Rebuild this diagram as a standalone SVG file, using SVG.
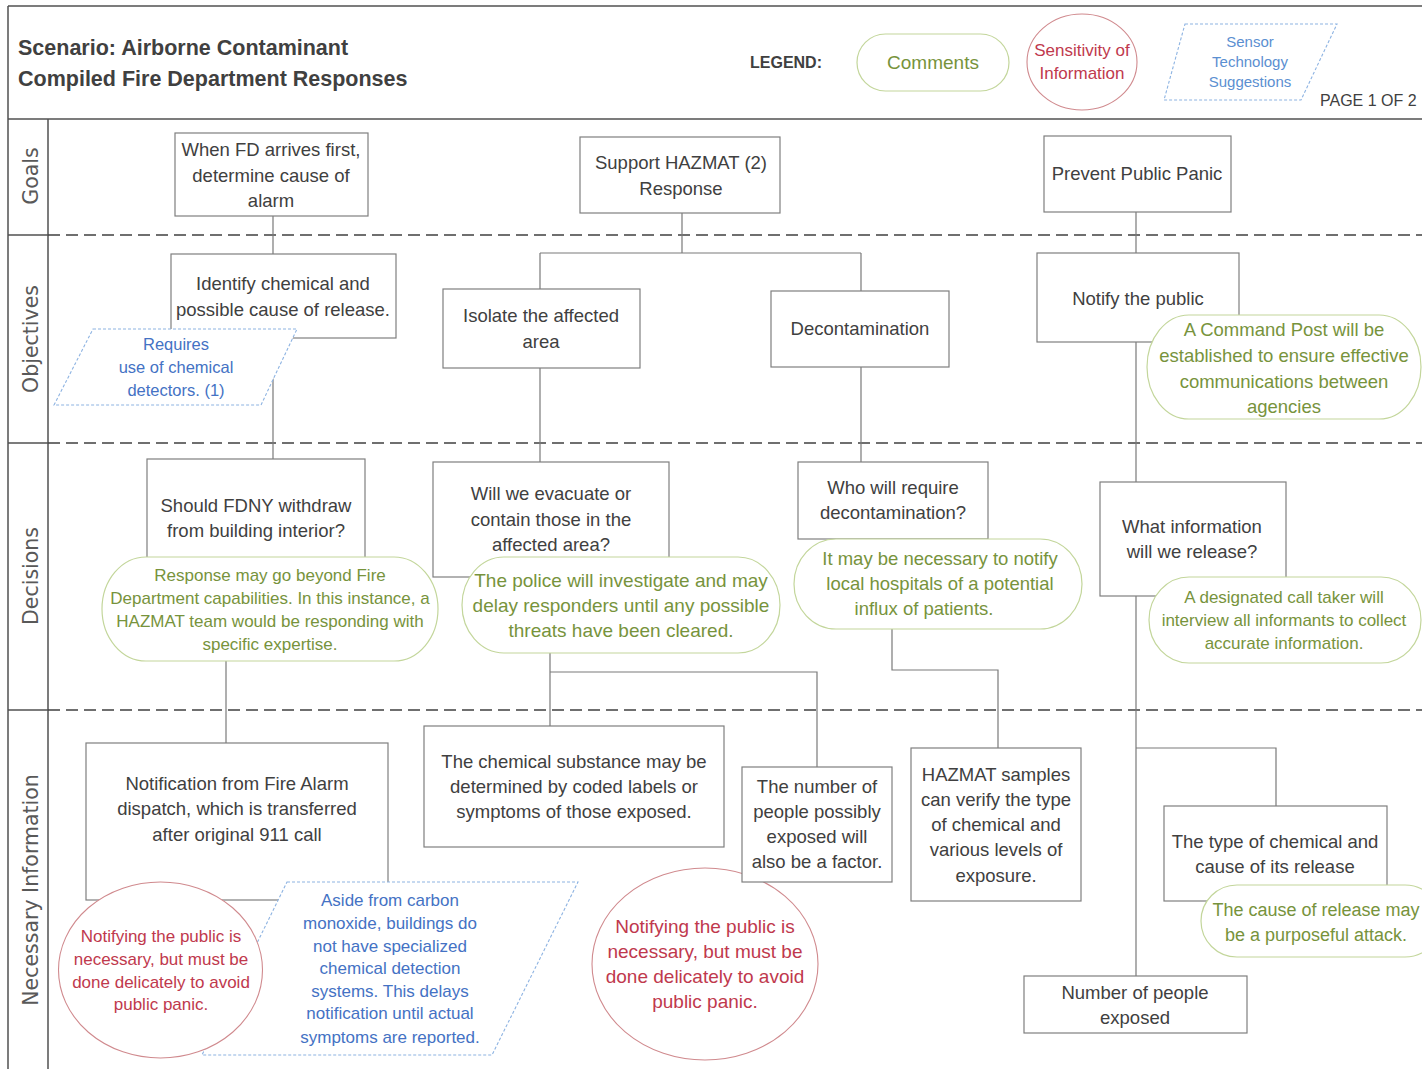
<svg xmlns="http://www.w3.org/2000/svg" width="1422" height="1069" viewBox="0 0 1422 1069">
<style>
.frame{stroke:#505050;stroke-width:1.5;fill:none}
.lane{stroke:#404040;stroke-width:1.5;stroke-dasharray:12 6;fill:none}
.conn{stroke:#7a7a7a;stroke-width:1.2;fill:none}
.box{fill:#fff;stroke:#7f7f7f;stroke-width:1.2}
.pill{fill:#fff;stroke:#c3d69b;stroke-width:1.2}
.circ{fill:#fff;stroke:#d08a8e;stroke-width:1.1}
.para{fill:#fff;stroke:#8db3e2;stroke-width:1.1;stroke-dasharray:3 2}
text{font-family:"Liberation Sans",Arial,sans-serif;text-anchor:middle}
.t{font-size:18.5px;fill:#404040}
.gt{fill:#77933c}
.rt{fill:#c0394d}
.bt{fill:#4472c4}
.title{font-size:21.5px;font-weight:bold;fill:#404040;text-anchor:start}
.lbl{font-family:"DejaVu Sans",sans-serif;font-size:20.5px;fill:#595959}
</style>
<rect width="1422" height="1069" fill="#fff"/>
<g id="frame">
<line class="frame" x1="8" y1="6" x2="1422" y2="6"/>
<line class="frame" x1="8" y1="119" x2="1422" y2="119"/>
<line class="frame" x1="8" y1="6" x2="8" y2="1069"/>
<line class="frame" x1="48" y1="119" x2="48" y2="1069"/>
<line class="frame" x1="8" y1="235" x2="48" y2="235"/>
<line class="frame" x1="8" y1="443" x2="48" y2="443"/>
<line class="frame" x1="8" y1="710" x2="48" y2="710"/>
<line class="lane" x1="48" y1="235" x2="1422" y2="235"/>
<line class="lane" x1="48" y1="443" x2="1422" y2="443"/>
<line class="lane" x1="48" y1="710" x2="1422" y2="710"/>
</g>
<g id="header">
<text class="title" x="18" y="54.5">Scenario: Airborne Contaminant</text>
<text class="title" x="18" y="85.5">Compiled Fire Department Responses</text>
<text x="750" y="68" style="font-size:16px;font-weight:bold;fill:#404040;text-anchor:start">LEGEND:</text>
<text x="1320" y="106" style="font-size:16px;fill:#404040;text-anchor:start">PAGE 1 OF 2</text>
</g>
<g id="legend-comments">
<rect class="pill" x="857" y="34" width="152" height="57" rx="28.5"/>
<text class="gt" x="933" y="68.5" style="font-size:19px">Comments</text>
</g>
<g id="legend-sensitivity">
<ellipse class="circ" cx="1082" cy="62" rx="55" ry="48"/>
<text class="rt" x="1082" y="56" style="font-size:17px">Sensitivity of</text>
<text class="rt" x="1082" y="79" style="font-size:17px">Information</text>
</g>
<g id="legend-sensor">
<polygon class="para" points="1185,24 1337,24 1301,100 1164,100"/>
<text class="bt" x="1250" y="47" style="font-size:15px;fill:#5b8fd1">Sensor</text>
<text class="bt" x="1250" y="67" style="font-size:15px;fill:#5b8fd1">Technology</text>
<text class="bt" x="1250" y="87" style="font-size:15px;fill:#5b8fd1">Suggestions</text>
</g>
<g id="lane-labels">
<text class="lbl" transform="translate(38,176) rotate(-90)">Goals</text>
<text class="lbl" transform="translate(38,339) rotate(-90)">Objectives</text>
<text class="lbl" transform="translate(38,576) rotate(-90)">Decisions</text>
<text class="lbl" transform="translate(38,890) rotate(-90)">Necessary Information</text>
</g>
<g id="connectors">
<path class="conn" d="M273,216 V254 M273,338 V459"/>
<path class="conn" d="M226,661 V743"/>
<path class="conn" d="M682,213 V253 M540,253 H861 M540,253 V289 M861,253 V291"/>
<path class="conn" d="M540,368 V462 M861,367 V462"/>
<path class="conn" d="M550,653 V726 M550,672 H817 V767"/>
<path class="conn" d="M892,628 V670 H998 V748"/>
<path class="conn" d="M1136,212 V253 M1136,342 V482 M1136,596 V976 M1136,748 H1276 V806"/>
</g>
<g id="g1">
<rect class="box" x="175" y="133" width="193" height="83"/>
<text class="t" x="271" y="155.5">When FD arrives first,</text>
<text class="t" x="271" y="181.5">determine cause of</text>
<text class="t" x="271" y="206.5">alarm</text>
</g>
<g id="g2">
<rect class="box" x="580" y="137" width="200" height="76"/>
<text class="t" x="681" y="168.5">Support HAZMAT (2)</text>
<text class="t" x="681" y="194.5">Response</text>
</g>
<g id="g3">
<rect class="box" x="1044" y="136" width="187" height="76"/>
<text class="t" x="1137" y="179.5">Prevent Public Panic</text>
</g>
<g id="o1">
<rect class="box" x="171" y="254" width="225" height="84"/>
<text class="t" x="283" y="289.5">Identify chemical and</text>
<text class="t" x="283" y="315.5">possible cause of release.</text>
</g>
<g id="o1-sensor">
<polygon class="para" points="93,329 297,329 261,405 54,405"/>
<text class="bt" x="176" y="349.5" style="font-size:16.5px">Requires</text>
<text class="bt" x="176" y="372.5" style="font-size:16.5px">use of chemical</text>
<text class="bt" x="176" y="395.5" style="font-size:16.5px">detectors. (1)</text>
</g>
<g id="o2">
<rect class="box" x="443" y="289" width="197" height="79"/>
<text class="t" x="541" y="322">Isolate the affected</text>
<text class="t" x="541" y="348">area</text>
</g>
<g id="o3">
<rect class="box" x="771" y="291" width="178" height="76"/>
<text class="t" x="860" y="335">Decontamination</text>
</g>
<g id="o4">
<rect class="box" x="1037" y="253" width="202" height="89"/>
<text class="t" x="1138" y="305">Notify the public</text>
</g>
<g id="o4-comment">
<rect class="pill" x="1147" y="315" width="274" height="104" rx="42" ry="52"/>
<text class="t gt" x="1284" y="335.5">A Command Post will be</text>
<text class="t gt" x="1284" y="361.5">established to ensure effective</text>
<text class="t gt" x="1284" y="387.5">communications between</text>
<text class="t gt" x="1284" y="412.5">agencies</text>
</g>
<g id="d1">
<rect class="box" x="147" y="459" width="218" height="100"/>
<text class="t" x="256" y="511.5">Should FDNY withdraw</text>
<text class="t" x="256" y="537">from building interior?</text>
</g>
<g id="d1-comment">
<rect class="pill" x="102" y="557" width="336" height="104" rx="44" ry="52"/>
<text class="gt" x="270" y="581" style="font-size:17px">Response may go beyond Fire</text>
<text class="gt" x="270" y="604" style="font-size:17px">Department capabilities. In this instance, a</text>
<text class="gt" x="270" y="627" style="font-size:17px">HAZMAT team would be responding with</text>
<text class="gt" x="270" y="650" style="font-size:17px">specific expertise.</text>
</g>
<g id="d2">
<rect class="box" x="433" y="462" width="236" height="115"/>
<text class="t" x="551" y="500">Will we evacuate or</text>
<text class="t" x="551" y="525.5">contain those in the</text>
<text class="t" x="551" y="551">affected area?</text>
</g>
<g id="d2-comment">
<rect class="pill" x="462" y="557" width="318" height="96" rx="42" ry="48"/>
<text class="gt" x="621" y="586.5" style="font-size:19px">The police will investigate and may</text>
<text class="gt" x="621" y="611.5" style="font-size:19px">delay responders until any possible</text>
<text class="gt" x="621" y="636.5" style="font-size:19px">threats have been cleared.</text>
</g>
<g id="d3">
<rect class="box" x="798" y="462" width="190" height="77"/>
<text class="t" x="893" y="494">Who will require</text>
<text class="t" x="893" y="519">decontamination?</text>
</g>
<g id="d3-comment">
<rect class="pill" x="794" y="539" width="288" height="90" rx="42" ry="45"/>
<text class="t gt" x="940" y="564.5">It may be necessary to notify</text>
<text class="t gt" x="940" y="589.5">local hospitals of a potential</text>
<text class="t gt" x="924" y="614.5">influx of patients.</text>
</g>
<g id="d4">
<rect class="box" x="1100" y="482" width="186" height="114"/>
<text class="t" x="1192" y="532.5">What information</text>
<text class="t" x="1192" y="558">will we release?</text>
</g>
<g id="d4-comment">
<rect class="pill" x="1149" y="577" width="272" height="86" rx="40" ry="43"/>
<text class="gt" x="1284" y="603" style="font-size:17px">A designated call taker will</text>
<text class="gt" x="1284" y="626" style="font-size:17px">interview all informants to collect</text>
<text class="gt" x="1284" y="649" style="font-size:17px">accurate information.</text>
</g>
<g id="n1">
<rect class="box" x="86" y="743" width="302" height="157"/>
<text class="t" x="237" y="789.5">Notification from Fire Alarm</text>
<text class="t" x="237" y="814.5">dispatch, which is transferred</text>
<text class="t" x="237" y="840.5">after original 911 call</text>
</g>
<g id="n1-sensor">
<polygon class="para" points="287,882 578,882 492,1055 202,1055"/>
<text class="bt" x="390" y="906" style="font-size:17px">Aside from carbon</text>
<text class="bt" x="390" y="929" style="font-size:17px">monoxide, buildings do</text>
<text class="bt" x="390" y="952" style="font-size:17px">not have specialized</text>
<text class="bt" x="390" y="974" style="font-size:17px">chemical detection</text>
<text class="bt" x="390" y="997" style="font-size:17px">systems. This delays</text>
<text class="bt" x="390" y="1019" style="font-size:17px">notification until actual</text>
<text class="bt" x="390" y="1043" style="font-size:17px">symptoms are reported.</text>
</g>
<g id="n1-sensitivity">
<ellipse class="circ" cx="160.5" cy="970" rx="102" ry="88"/>
<text class="rt" x="161" y="942" style="font-size:17px">Notifying the public is</text>
<text class="rt" x="161" y="965" style="font-size:17px">necessary, but must be</text>
<text class="rt" x="161" y="988" style="font-size:17px">done delicately to avoid</text>
<text class="rt" x="161" y="1010" style="font-size:17px">public panic.</text>
</g>
<g id="n2">
<rect class="box" x="424" y="726" width="300" height="121"/>
<text class="t" x="574" y="767.5">The chemical substance may be</text>
<text class="t" x="574" y="793">determined by coded labels or</text>
<text class="t" x="574" y="818">symptoms of those exposed.</text>
</g>
<g id="n2-sensitivity">
<ellipse class="circ" cx="705" cy="964" rx="113" ry="96"/>
<text class="rt" x="705" y="932.5" style="font-size:19px">Notifying the public is</text>
<text class="rt" x="705" y="957.5" style="font-size:19px">necessary, but must be</text>
<text class="rt" x="705" y="982.5" style="font-size:19px">done delicately to avoid</text>
<text class="rt" x="705" y="1007.5" style="font-size:19px">public panic.</text>
</g>
<g id="n3">
<rect class="box" x="742" y="767" width="150" height="115"/>
<text class="t" x="817" y="792.5">The number of</text>
<text class="t" x="817" y="817.5">people possibly</text>
<text class="t" x="817" y="842.5">exposed will</text>
<text class="t" x="817" y="867.5">also be a factor.</text>
</g>
<g id="n4">
<rect class="box" x="911" y="748" width="170" height="153"/>
<text class="t" x="996" y="780.5">HAZMAT samples</text>
<text class="t" x="996" y="805.5">can verify the type</text>
<text class="t" x="996" y="830.5">of chemical and</text>
<text class="t" x="996" y="856">various levels of</text>
<text class="t" x="996" y="882">exposure.</text>
</g>
<g id="n5">
<rect class="box" x="1164" y="806" width="223" height="95"/>
<text class="t" x="1275" y="847.5">The type of chemical and</text>
<text class="t" x="1275" y="872.5">cause of its release</text>
</g>
<g id="n5-comment">
<rect class="pill" x="1201" y="885" width="240" height="72" rx="36" ry="36"/>
<text class="gt" x="1316" y="915.5" style="font-size:18px">The cause of release may</text>
<text class="gt" x="1316" y="940.5" style="font-size:18px">be a purposeful attack.</text>
</g>
<g id="n6">
<rect class="box" x="1024" y="976" width="223" height="57"/>
<text class="t" x="1135" y="998.5">Number of people</text>
<text class="t" x="1135" y="1023.5">exposed</text>
</g>
</svg>
